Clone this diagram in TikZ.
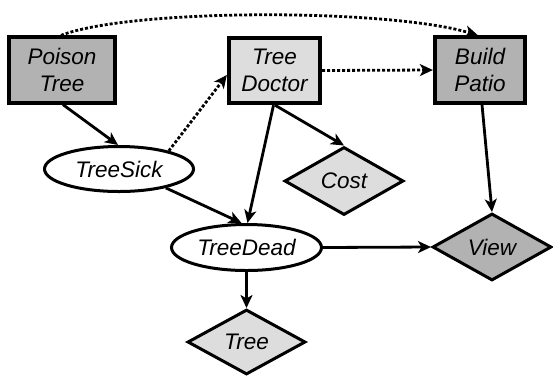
\documentclass[tikz,border=0pt]{standalone}
\usepackage{fontspec}
\setmainfont{Liberation Sans}
\usetikzlibrary{shapes.geometric,arrows.meta}
\definecolor{boxdark}{RGB}{178,178,178}
\definecolor{boxlight}{RGB}{221,221,221}
\begin{document}
\begin{tikzpicture}[x=1pt,y=-1pt,
  base/.style={font=\fontsize{22.5}{27}\selectfont\itshape, align=center, inner sep=0pt},
  box/.style={base, draw, rectangle, line width=3.8pt, minimum height=65.5pt},
  oval/.style={base, draw, ellipse, line width=3pt, fill=white},
  dia/.style={base, draw, diamond, line width=3pt},
  dark/.style={fill=boxdark},
  light/.style={fill=boxlight},
  arr/.style={line width=2.8pt, -{Stealth[length=13pt,width=12pt,inset=3.5pt]}},
  dotarr/.style={arr, dash pattern=on 3pt off 2pt}
]
\useasboundingbox[fill=white] (0,0) rectangle (553,376);
\node[box,dark,minimum width=105.5pt] (pt) at (62,70) {Poison\\Tree};
\node[box,light,minimum width=91.5pt] (doc) at (274.5,70.5) {Tree\\Doctor};
\node[box,dark,minimum width=90.5pt] (bp) at (480,70) {Build\\Patio};
\node[oval,minimum width=149pt,minimum height=45pt] (sick) at (119,169) {TreeSick};
\node[oval,minimum width=150pt,minimum height=46pt] (dead) at (246.5,247.5) {TreeDead};
\node[dia,light,minimum width=119pt,minimum height=68pt] (cost) at (344,181) {Cost};
\node[dia,dark,minimum width=119pt,minimum height=67pt] (view) at (492,247) {View};
\node[dia,light,minimum width=118pt,minimum height=65pt] (tree) at (246.5,342) {Tree};

\draw[arr] ([xshift=1pt]pt.south) -- ([xshift=-1pt]sick.north);
\draw[dotarr] (sick.20) -- ([yshift=-4.5pt]doc.west);
\draw[dotarr] (doc.east) -- (bp.west);
\draw[dotarr] ([xshift=-1pt]pt.north) .. controls +(70,-27) and +(-90,-27) .. ([xshift=-2pt]bp.north);
\draw[arr] ([xshift=0.5pt]doc.south) -- (cost.north);
\draw[arr] ([xshift=-1pt]doc.south) -- ([xshift=1pt]dead.north);
\draw[arr] (sick.-22) -- ([xshift=-5pt]dead.north);
\draw[arr] ([xshift=2pt]bp.south) -- (view.north);
\draw[arr] (dead.east) -- (view.west);
\draw[arr] (dead.south) -- (tree.north);
\end{tikzpicture}
\end{document}
